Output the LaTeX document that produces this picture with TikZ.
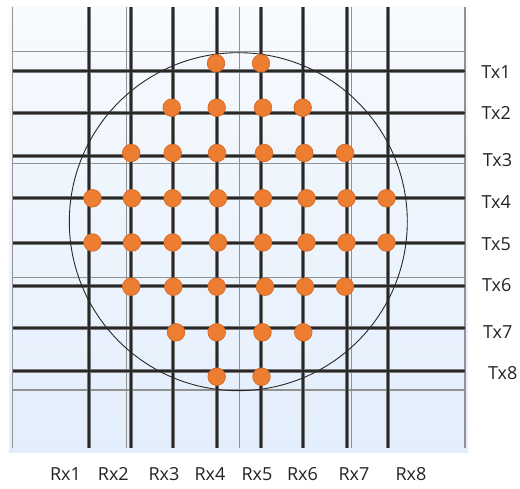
\documentclass[tikz,border=0pt]{standalone}
\usepackage{fontspec}
\setmainfont{Open Sans}
\definecolor{bgtop}{RGB}{247,250,254}
\definecolor{bgbot}{RGB}{227,238,252}
\definecolor{thickc}{RGB}{40,40,40}
\definecolor{haloc}{RGB}{120,120,120}
\definecolor{thinc}{RGB}{145,145,145}
\definecolor{dotfill}{RGB}{237,125,49}
\definecolor{dotdraw}{RGB}{215,110,42}
\definecolor{circc}{RGB}{40,40,40}
\definecolor{txtc}{RGB}{35,35,35}
\begin{document}
\begin{tikzpicture}[x=1pt,y=-1pt,
  halo/.style={draw=haloc, line width=4pt},
  thickline/.style={draw=thickc, line width=2.2pt},
  thinline/.style={draw=thinc, line width=1.5pt},
  dot/.style={circle, fill=dotfill, draw=dotdraw, line width=0.8pt, minimum size=17.5pt, inner sep=0pt},
  lbl/.style={font=\fontsize{18}{20}\selectfont, text=txtc, inner sep=0pt}
]
\useasboundingbox (0,0) rectangle (520,489);
% background
\shade[top color=bgtop, bottom color=bgbot] (9,7) rectangle (468,452);
% thin grid lines
\foreach \x in {12.7,126.7,239.3,351.7,465}
  \draw[thinline] (\x,7) -- (\x,448);
\foreach \y in {51.7,163.3,277.3,390}
  \draw[thinline] (12.7,\y) -- (465,\y);
% thick lines (halo then core)
\foreach \x in {88.7,131,173,216.7,261,303.3,346.7,388.3}
  \draw[halo] (\x,7) -- (\x,448);
\foreach \y in {71,113.3,156,198.3,243,286,328.3,371}
  \draw[halo] (12.7,\y) -- (465,\y);
\foreach \x in {88.7,131,173,216.7,261,303.3,346.7,388.3}
  \draw[thickline] (\x,7) -- (\x,448);
\foreach \y in {71,113.3,156,198.3,243,286,328.3,371}
  \draw[thickline] (12.7,\y) -- (465,\y);
% circle
\node[circle, draw=circc, line width=0.9pt, minimum size=338pt, inner sep=0pt] (wafer) at (238.3,221.7) {};
% dots
\foreach \x [count=\i] in {216,261}
  \node[dot] (d1-\i) at (\x,63.3) {};
\foreach \x [count=\i] in {171.7,216.7,263,302.7}
  \node[dot] (d2-\i) at (\x,107.7) {};
\foreach \x [count=\i] in {131.2,172.7,217,264,304.3,345}
  \node[dot] (d3-\i) at (\x,153) {};
\foreach \x [count=\i] in {92.5,132,172.7,218,263,306.5,346.5,386.5}
  \node[dot] (d4-\i) at (\x,198.3) {};
\foreach \x [count=\i] in {92.5,132,172.7,218,263,306.5,346.5,386.5}
  \node[dot] (d5-\i) at (\x,242.5) {};
\foreach \x [count=\i] in {131.2,173.3,216.7,265,305,345}
  \node[dot] (d6-\i) at (\x,286.7) {};
\foreach \x [count=\i] in {176,216.7,262.5,303.3}
  \node[dot] (d7-\i) at (\x,332.3) {};
\foreach \x [count=\i] in {216.7,261.5}
  \node[dot] (d8-\i) at (\x,376.7) {};
% Tx labels
\node[lbl] (tx1) at (496,71.7) {Tx1};
\node[lbl] (tx2) at (496.3,113.3) {Tx2};
\node[lbl] (tx3) at (497.5,160.5) {Tx3};
\node[lbl] (tx4) at (496.3,202) {Tx4};
\node[lbl] (tx5) at (496.3,244.5) {Tx5};
\node[lbl] (tx6) at (496.7,285.5) {Tx6};
\node[lbl] (tx7) at (497.7,332.3) {Tx7};
\node[lbl] (tx8) at (502.8,373.3) {Tx8};
% Rx labels
\node[lbl] (rx1) at (65.5,474) {Rx1};
\node[lbl] (rx2) at (113.3,474) {Rx2};
\node[lbl] (rx3) at (164,474) {Rx3};
\node[lbl] (rx4) at (210,474) {Rx4};
\node[lbl] (rx5) at (257,474) {Rx5};
\node[lbl] (rx6) at (302.5,474) {Rx6};
\node[lbl] (rx7) at (354,474) {Rx7};
\node[lbl] (rx8) at (411,474) {Rx8};
\end{tikzpicture}
\end{document}
